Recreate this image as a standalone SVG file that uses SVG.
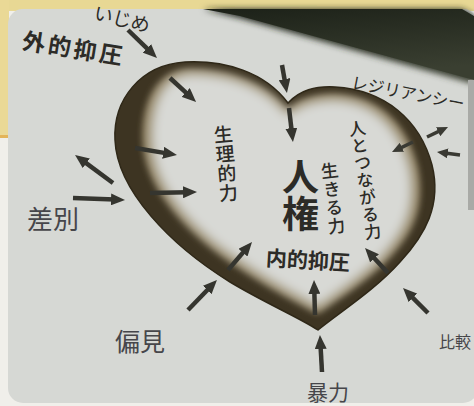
<svg xmlns="http://www.w3.org/2000/svg" width="474" height="406" viewBox="0 0 474 406">
<defs>
<style>
.g{font-family:"Noto Sans","Noto Sans CJK JP",sans-serif;fill:#2c2b27;}
.v{writing-mode:vertical-rl;text-orientation:upright;}
.m{font-family:"Liberation Serif","Noto Sans CJK JP",serif;fill:#46464a;font-weight:400;}
.arr{stroke:#35352f;stroke-width:4.5;fill:none;marker-end:url(#ah);}
.arrs{stroke:#3a3a33;stroke-width:3.5;fill:none;marker-end:url(#ahs);}
</style>
<marker id="ah" markerUnits="userSpaceOnUse" viewBox="0 0 14 12" markerWidth="14" markerHeight="12" refX="4" refY="6" orient="auto"><path d="M0,0 L14,6 L0,12 Z" fill="#35352f"/></marker>
<marker id="ahs" markerUnits="userSpaceOnUse" viewBox="0 0 11 10" markerWidth="11" markerHeight="10" refX="3" refY="5" orient="auto"><path d="M0,0 L11,5 L0,10 Z" fill="#3a3a33"/></marker>
<clipPath id="hc"><path d="M288,103 C265,72 225,60 185,62 C140,65 113,100 115,140 C117,190 170,245 230,282 C265,303 300,318 318,330 C340,312 375,290 400,262 C425,235 442,205 432,165 C420,120 385,90 335,87 C315,86 300,90 288,103 Z"/></clipPath>
<filter id="bl" x="-20%" y="-20%" width="140%" height="140%"><feGaussianBlur stdDeviation="6"/></filter>
<filter id="bl2" x="-20%" y="-20%" width="140%" height="140%"><feGaussianBlur stdDeviation="3"/></filter>
<linearGradient id="dk" x1="0" y1="0" x2="0.3" y2="1"><stop offset="0" stop-color="#1c2118"/><stop offset="1" stop-color="#3a3f31"/></linearGradient>
</defs>

<g id="background">
<rect x="0" y="0" width="474" height="406" fill="#f0efea"/>
<rect x="0" y="0" width="474" height="11" fill="#e8d894"/>
<rect x="0" y="0" width="9" height="137" fill="#ead996"/>
<rect x="0" y="135" width="9" height="3" fill="#e3b45a"/>
<rect x="8" y="9" width="470" height="394" rx="15" fill="#d6d8d4"/>
<polygon points="203,9 462,9 474,16 474,84 240,18" fill="url(#dk)" filter="url(#bl2)"/>
<polygon points="203,9 462,9 474,16 474,80 240,16" fill="url(#dk)"/>
<rect x="468" y="80" width="6" height="130" fill="#a9aaa6"/>
</g>

<g id="heart">
<path d="M288,103 C265,72 225,60 185,62 C140,65 113,100 115,140 C117,190 170,245 230,282 C265,303 300,318 318,330 C340,312 375,290 400,262 C425,235 442,205 432,165 C420,120 385,90 335,87 C315,86 300,90 288,103 Z" fill="#3d3422"/>
<g clip-path="url(#hc)">
<path d="M288,110 C265,82 228,69 188,69 C155,71 140,105 143,145 C146,190 190,236 236,266 C270,289 300,304 318,314 C338,298 370,280 392,255 C415,230 425,205 418,168 C408,125 380,96 335,94 C315,94 298,99 288,110 Z" fill="#8c7d5c" filter="url(#bl2)"/>
<path d="M288,114 C265,86 230,73 190,73 C160,75 148,108 151,147 C154,190 195,234 240,262 C272,284 300,298 318,308 C336,294 366,276 387,252 C408,228 417,205 411,170 C402,130 377,101 335,99 C316,99 299,104 288,114 Z" fill="#d8d9d5" filter="url(#bl)"/>
</g>
<path d="M288,103 C265,72 225,60 185,62 C140,65 113,100 115,140 C117,190 170,245 230,282 C265,303 300,318 318,330 C340,312 375,290 400,262 C425,235 442,205 432,165 C420,120 385,90 335,87 C315,86 300,90 288,103 Z" fill="none" stroke="#2f2818" stroke-width="1.5"/>
</g>

<g id="connectors">
<line class="arr" x1="128" y1="30" x2="149.8" y2="51.1"/>
<line class="arr" x1="170" y1="78" x2="188.7" y2="95.2"/>
<line class="arr" x1="282" y1="65" x2="285.2" y2="83.1"/>
<line class="arr" x1="289" y1="108" x2="291.8" y2="132.1"/>
<line class="arr" x1="135" y1="148" x2="167.1" y2="153.4"/>
<line class="arr" x1="150" y1="193" x2="187" y2="192.2"/>
<line class="arr" x1="113" y1="183" x2="83.1" y2="160.9"/>
<line class="arr" x1="73" y1="198" x2="115" y2="199.6"/>
<line class="arr" x1="188" y1="310" x2="210" y2="287.2"/>
<line class="arr" x1="228" y1="270" x2="245.5" y2="249.6"/>
<line class="arr" x1="315" y1="315" x2="314.3" y2="290"/>
<line class="arr" x1="322" y1="372" x2="320.5" y2="345"/>
<line class="arr" x1="428" y1="313" x2="410.1" y2="295.1"/>
<line class="arr" x1="388" y1="273" x2="371.8" y2="255.4"/>
<line class="arrs" x1="427" y1="137" x2="440.8" y2="130.4"/>
<line class="arrs" x1="460" y1="155" x2="444.9" y2="153"/>
<line class="arrs" x1="413" y1="142" x2="399.2" y2="148.6"/>
</g>

<g id="ijime"><text class="g" x="122" y="26" font-size="19" text-anchor="middle" transform="rotate(14 122 19)">いじめ</text></g>
<g id="gaiteki"><text class="g" x="74" y="57" font-size="23" font-weight="700" letter-spacing="3" text-anchor="middle" transform="rotate(9 74 48)">外的抑圧</text></g>
<g id="resilience"><text class="g" x="408" y="99" font-size="16.5" text-anchor="middle" transform="rotate(11 408 93)">レジリアンシー</text></g>
<g id="seiriteki"><text class="g v" x="221" y="125" font-size="19" font-weight="500" letter-spacing="0.5" transform="rotate(-5 221 125)">生理的力</text></g>
<g id="jinken"><text class="g v" x="299" y="158" font-size="37" font-weight="700">人権</text></g>
<g id="ikiru"><text class="g v" x="328" y="162" font-size="17.5" font-weight="500" letter-spacing="1" transform="rotate(-7 328 162)">生きる力</text></g>
<g id="hitoto"><text class="g v" x="355" y="120" font-size="17" font-weight="500" letter-spacing="0.4" transform="rotate(-8.5 355 120)">人とつながる力</text></g>
<g id="naiteki"><text class="g" x="308" y="268" font-size="21" font-weight="700" text-anchor="middle" transform="rotate(3.5 308 260)">内的抑圧</text></g>
<g id="sabetsu"><text class="m" x="53" y="229" font-size="26" text-anchor="middle" fill="#55555a">差別</text></g>
<g id="henken"><text class="m" x="140" y="351" font-size="25" text-anchor="middle">偏見</text></g>
<g id="bouryoku"><text class="m" x="328" y="400" font-size="21" text-anchor="middle">暴力</text></g>
<g id="hikaku"><text class="m" x="455" y="348" font-size="16" text-anchor="middle" fill="#66666a">比較</text></g>
</svg>
